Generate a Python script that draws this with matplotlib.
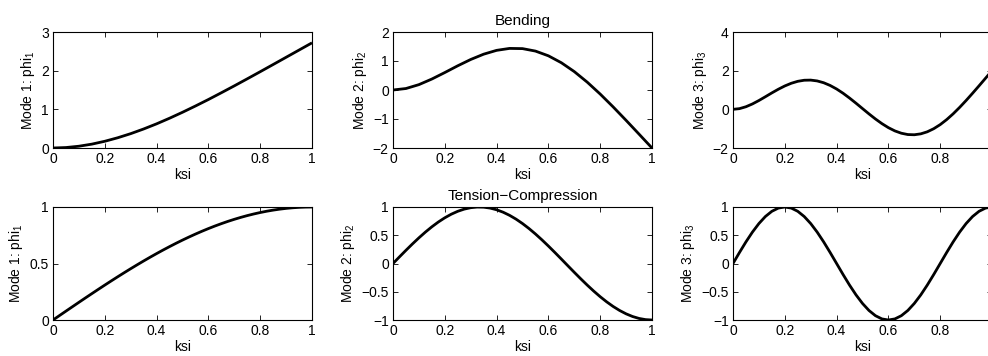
import matplotlib
matplotlib.use("Agg")
import matplotlib.pyplot as plt
from matplotlib.ticker import FuncFormatter

plt.rcParams['font.family'] = ['Liberation Sans', 'DejaVu Sans']
plt.rcParams['mathtext.fontset'] = 'custom'
plt.rcParams['mathtext.rm'] = 'Liberation Sans'

# ---- data ----
ksi = [0.0, 0.05, 0.1, 0.15, 0.2, 0.25, 0.3, 0.35, 0.4, 0.45, 0.5,
       0.55, 0.6, 0.65, 0.7, 0.75, 0.8, 0.85, 0.9, 0.95, 1.0]
ksi_fine = [0.0, 0.025, 0.05, 0.075, 0.1, 0.125, 0.15, 0.175, 0.2, 0.225, 0.25,
            0.275, 0.3, 0.325, 0.35, 0.375, 0.4, 0.425, 0.45, 0.475, 0.5,
            0.525, 0.55, 0.575, 0.6, 0.625, 0.65, 0.675, 0.7, 0.725, 0.75,
            0.775, 0.8, 0.825, 0.85, 0.875, 0.9, 0.925, 0.95, 0.975, 1.0]

bend_mode1 = [0.0, 0.012, 0.046, 0.100, 0.174, 0.265, 0.371, 0.492, 0.625, 0.770, 0.924,
              1.086, 1.254, 1.429, 1.607, 1.789, 1.973, 2.159, 2.346, 2.533, 2.720]
bend_mode2 = [0.0, 0.051, 0.185, 0.378, 0.602, 0.835, 1.052, 1.235, 1.367, 1.434, 1.427,
              1.342, 1.179, 0.940, 0.634, 0.270, -0.140, -0.583, -1.047, -1.522, -2.000]
bend_mode3 = [0.0, 0.036, 0.134, 0.279, 0.456, 0.651, 0.850, 1.039, 1.209, 1.348, 1.449,
              1.505, 1.512, 1.469, 1.376, 1.235, 1.052, 0.832, 0.583, 0.316, 0.039,
              -0.236, -0.499, -0.739, -0.948, -1.116, -1.236, -1.304, -1.315, -1.268, -1.163,
              -1.002, -0.790, -0.531, -0.232, 0.100, 0.457, 0.832, 1.217, 1.608, 2.000]

tens_mode1 = [0.0, 0.0393, 0.0785, 0.1175, 0.1564, 0.1951, 0.2334, 0.2714, 0.3090, 0.3461, 0.3827,
              0.4187, 0.4540, 0.4886, 0.5225, 0.5556, 0.5878, 0.6191, 0.6494, 0.6788, 0.7071,
              0.7343, 0.7604, 0.7853, 0.8090, 0.8315, 0.8526, 0.8725, 0.8910, 0.9081, 0.9239,
              0.9382, 0.9511, 0.9625, 0.9724, 0.9808, 0.9877, 0.9931, 0.9969, 0.9992, 1.0]
tens_mode2 = [0.0, 0.1175, 0.2334, 0.3461, 0.4540, 0.5556, 0.6494, 0.7343, 0.8090, 0.8725, 0.9239,
              0.9625, 0.9877, 0.9992, 0.9969, 0.9808, 0.9511, 0.9081, 0.8526, 0.7853, 0.7071,
              0.6191, 0.5225, 0.4187, 0.3090, 0.1951, 0.0785, -0.0393, -0.1564, -0.2714, -0.3827,
              -0.4886, -0.5878, -0.6788, -0.7604, -0.8315, -0.8910, -0.9382, -0.9724, -0.9931, -1.0]
tens_mode3 = [0.0, 0.1951, 0.3827, 0.5556, 0.7071, 0.8315, 0.9239, 0.9808, 1.0, 0.9808, 0.9239,
              0.8315, 0.7071, 0.5556, 0.3827, 0.1951, 0.0, -0.1951, -0.3827, -0.5556, -0.7071,
              -0.8315, -0.9239, -0.9808, -1.0, -0.9808, -0.9239, -0.8315, -0.7071, -0.5556, -0.3827,
              -0.1951, 0.0, 0.1951, 0.3827, 0.5556, 0.7071, 0.8315, 0.9239, 0.9808, 1.0]

x_ticks = [0, 0.2, 0.4, 0.6, 0.8, 1]
bend_yticks = [[0, 1, 2, 3], [-2, -1, 0, 1, 2], [-2, 0, 2, 4]]
tens_yticks = [[0, 0.5, 1], [-1, -0.5, 0, 0.5, 1], [-1, -0.5, 0, 0.5, 1]]
ylabels = ['Mode 1: phi$_{\\mathregular{1}}$', 'Mode 2: phi$_{\\mathregular{2}}$',
           'Mode 3: phi$_{\\mathregular{3}}$']
xlabel = 'ksi'
titles = ['Bending', 'Tension\u2212Compression']

# ---- layout ----
W, H = 988, 356
fig = plt.figure(figsize=(W / 100, H / 100), dpi=100)

lefts = [53, 393, 733]
width = 259
rows = [(32, 148), (207, 320)]

fmt = FuncFormatter(lambda v, p: ('%g' % v).replace('-', '\u2212'))
fmt_right = FuncFormatter(lambda v, p: '' if v > 0.95 else ('%g' % v).replace('-', '\u2212'))

xs = [[ksi, ksi, ksi_fine], [ksi_fine, ksi_fine, ksi_fine]]
data = [[bend_mode1, bend_mode2, bend_mode3], [tens_mode1, tens_mode2, tens_mode3]]
yticks = [bend_yticks, tens_yticks]

for r, (top, bot) in enumerate(rows):
    for c, lx in enumerate(lefts):
        ax = fig.add_axes([lx / W, 1 - bot / H, width / W, (bot - top) / H])
        ax.plot(xs[r][c], data[r][c], color='black', linewidth=2.0,
                solid_joinstyle='round', solid_capstyle='butt')
        ax.set_xlim(0, 1)
        yt = yticks[r][c]
        ax.set_ylim(yt[0], yt[-1])
        ax.set_xticks(x_ticks)
        ax.set_yticks(yt)
        ax.xaxis.set_major_formatter(fmt_right if c == 2 else fmt)
        ax.yaxis.set_major_formatter(fmt)
        ax.tick_params(direction='in', top=True, right=True, length=3.5, width=0.6,
                       labelsize=10, colors='black', pad=3)
        for s in ax.spines.values():
            s.set_linewidth(0.8)
            s.set_color('black')
        ax.set_xlabel(xlabel, fontsize=10, labelpad=1)
        ax.set_ylabel(ylabels[c], fontsize=10, labelpad=3)
        if c == 1:
            ax.set_title(titles[r], fontsize=11, pad=5)

fig.savefig('out.png', dpi=100)
